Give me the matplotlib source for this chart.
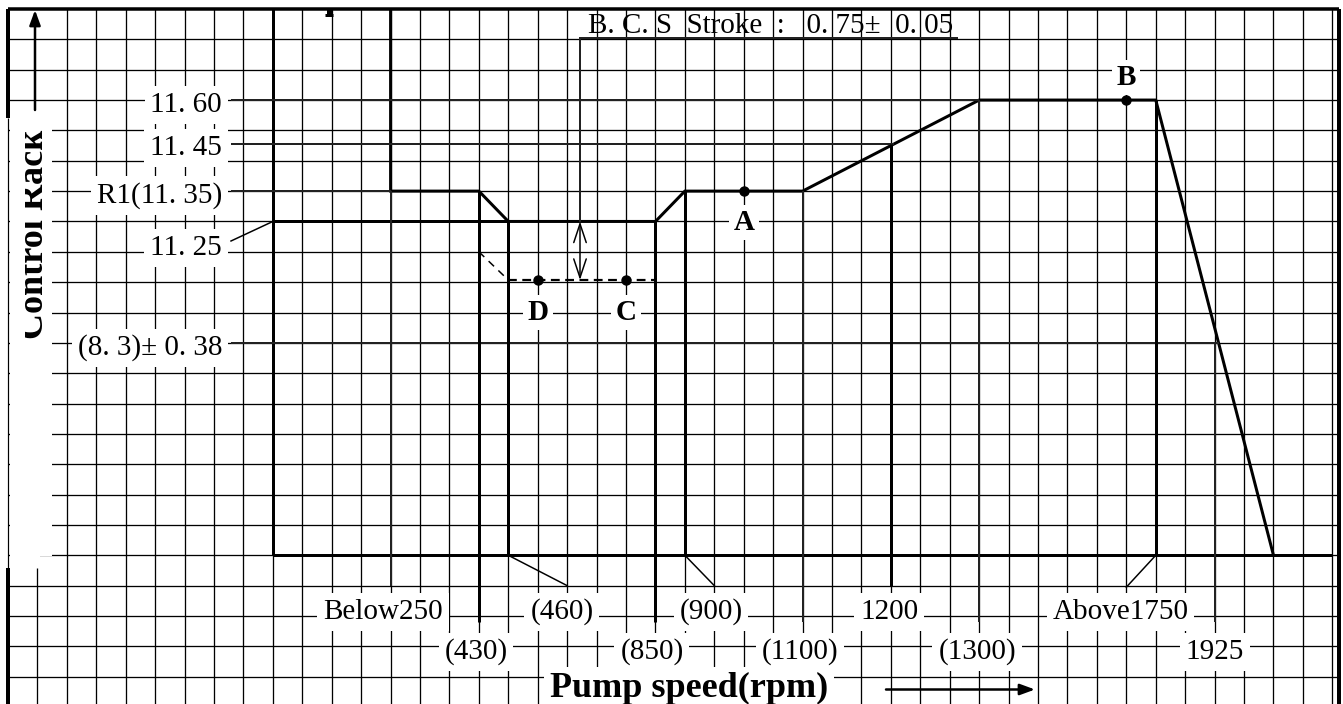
import numpy as np
import matplotlib
matplotlib.use("Agg")
import matplotlib.pyplot as plt
from matplotlib.patches import Rectangle
from matplotlib.transforms import Bbox, TransformedBbox

# ---------------- data (schematic chart on graph paper) ----------------
speed_labels = ['Below250', '(430)', '(460)', '(850)', '(900)', '(1100)',
                '1200', '(1300)', 'Above1750', '1925']
speed_cols = [13, 16, 17, 22, 23, 27, 30, 33, 39, 41]      # grid column of each speed mark

rack_labels = ['11. 60', '11. 45', 'R1(11. 35)', '11. 25', '(8. 3)± 0. 38']
rack_rows = [3, 4.45, 6, 7, 11]                             # grid row of each rack value

curve_cols = [13, 13, 16, 17, 22, 23, 27, 33, 39, 43]      # full-load characteristic
curve_rows = [0, 6, 6, 7, 7, 6, 6, 3, 3, 18]

idle_cols = [16, 17, 22]                                    # low-idle (dashed)
idle_rows = [8, 8.93, 8.93]

point_names = ['A', 'B', 'C', 'D']
point_cols = [25, 38, 21, 18]
point_rows = [6, 3, 8.93, 8.93]

stroke_text = 'B. C. S  Stroke  :   0. 75±  0. 05'
x_title = 'Pump speed(rpm)'
y_title = 'Control Rack'

# ---------------- layout ----------------
W_PX, H_PX, DPI = 1343, 704, 100
X0, DX = 8.0, 29.43      # graph paper origin / cell size (px)
Y0, DY = 9.0, 30.35
PT = 72.0 / DPI          # points per pixel


def cx(px):
    return (px - X0) / DX


def ry(py):
    return (py - Y0) / DY


SERIF = 'Liberation Serif'
FS = 21
FS_B = 21
THICK = 3.0 * PT
MED = 2.0 * PT
THIN = 1.3 * PT

axis_col = 9          # inner y axis
axis_row = 18         # inner x axis
rack_line_start = cx(231)
rack_label_right = cx(222)
rack_label_base = [3.39, 4.81, 6.39, 8.1, 11.4]

speed_label_cols = [12.74, 15.9, 18.82, 21.88, 23.89, 26.9, 29.94, 32.93, 37.8, 41.0]
speed_tier = [0, 1, 0, 1, 0, 1, 0, 1, 0, 1]
tier_base = [20.1, 21.42]
leader_end = {2: (19, 19), 4: (24, 19), 8: (38, 19.05)}
thick_speed = {16, 17, 22, 23, 30, 39}

point_label_base = [7.28, 2.5, 10.25, 10.25]

fig = plt.figure(figsize=(W_PX / DPI, H_PX / DPI), dpi=DPI)
ax = fig.add_axes([0, 0, 1, 1])
ax.set_xlim(cx(0), cx(W_PX))
ax.set_ylim(ry(H_PX), ry(0))
ax.axis('off')

# ---------------- graph paper ----------------
right_edge = cx(1339)
cols = np.arange(0, 46)
rows = np.arange(0, 24)
ax.vlines(cols[(cols != 1) & (cols != 0)], 0, ry(H_PX), color='black', lw=THIN, zorder=1)
ax.vlines(1, ry(568), ry(H_PX), color='black', lw=THIN, zorder=1)
ax.hlines(rows[1:], 0, right_edge, color='black', lw=THIN, zorder=1)

# white band for the y title
ax.add_patch(Rectangle((cx(9.5), ry(117)), cx(52) - cx(9.5), ry(556) - ry(117),
                       facecolor='white', edgecolor='none', zorder=2))
ax.add_patch(Rectangle((cx(9.5), ry(556)), cx(40) - cx(9.5), ry(568) - ry(556),
                       facecolor='white', edgecolor='none', zorder=2))

# borders
ax.hlines(0, 0, right_edge, color='black', lw=3.5 * PT, zorder=6)
ax.vlines(0, 0, ry(118), color='black', lw=4 * PT, zorder=6)
ax.vlines(0, ry(118), ry(568), color='black', lw=1.2 * PT, zorder=6)
ax.vlines(0, ry(568), ry(H_PX), color='black', lw=4 * PT, zorder=6)
ax.vlines(right_edge, 0, ry(H_PX), color='black', lw=4 * PT, zorder=6)

# ---------------- axes of the diagram ----------------
ax.plot([axis_col, axis_col], [0, axis_row], color='black', lw=THICK, zorder=4,
        solid_capstyle='butt')
ax.plot([axis_col, 45], [axis_row, axis_row], color='black', lw=THICK, zorder=4,
        solid_capstyle='butt')

# characteristic
ax.plot(curve_cols, curve_rows, color='black', lw=THICK, zorder=4,
        solid_joinstyle='miter', solid_capstyle='butt')

# low idle dashed
ax.plot(idle_cols[:2], idle_rows[:2], color='black', lw=1.5 * PT, ls=(0, (5, 4)), zorder=4)
ax.plot(idle_cols[1:], idle_rows[1:], color='black', lw=2.2 * PT, ls=(0, (4, 2.5)), zorder=4)


def first_cross(row):
    c, r = curve_cols[1:], curve_rows[1:]
    for i in range(len(c) - 1):
        r1, r2 = r[i], r[i + 1]
        if r1 == row:
            return c[i]
        if (r1 - row) * (r2 - row) < 0:
            return c[i] + (row - r1) / (r2 - r1) * (c[i + 1] - c[i])
    return c[-1]


def curve_row_at(col):
    return float(np.interp(col, curve_cols[1:], curve_rows[1:]))


box = dict(facecolor='white', edgecolor='none', boxstyle='square,pad=0.2')

# rack level lines and labels
for i, (lab, rw) in enumerate(zip(rack_labels, rack_rows)):
    end = first_cross(rw)
    if i == 3:
        ax.plot([rack_line_start, axis_col], [ry(241), rw], color='black', lw=1.5 * PT, zorder=4)
        ax.plot([axis_col, end], [rw, rw], color='black', lw=THICK, zorder=4,
                solid_capstyle='butt')
    else:
        ax.plot([rack_line_start, end], [rw, rw], color='#222222', lw=MED, zorder=4,
                solid_capstyle='butt')
    ax.text(rack_label_right, rack_label_base[i], lab, ha='right', va='baseline',
            family=SERIF, fontsize=FS, zorder=5, bbox=box)

# speed lines and labels
for i, (lab, c) in enumerate(zip(speed_labels, speed_cols)):
    top = curve_row_at(c)
    if lab == '1925':
        top = rack_rows[4]
    if lab == '1200':
        top = rack_rows[1]
    if i in leader_end:
        bottom = axis_row
        lc, lr = leader_end[i]
        ax.plot([c, lc], [axis_row, lr], color='black', lw=1.5 * PT, zorder=4)
    elif speed_tier[i] == 0:
        bottom = 19
    else:
        bottom = 20.2
    w = THICK if c in thick_speed else MED
    ax.plot([c, c], [top, bottom], color='black' if c in thick_speed else '#222222',
            lw=w, zorder=4, solid_capstyle='butt')
    ax.text(speed_label_cols[i], tier_base[speed_tier[i]], lab, ha='center', va='baseline',
            family=SERIF, fontsize=FS, zorder=5, bbox=box)

# points
ax.plot(point_cols, point_rows, 'o', color='black', ms=9 * PT, zorder=5)
for name, c, b in zip(point_names, point_cols, point_label_base):
    ax.text(c, b, name, ha='center', va='baseline', family=SERIF, weight='bold',
            fontsize=FS_B, zorder=5,
            bbox=dict(facecolor='white', edgecolor='none', boxstyle='square,pad=0.15'))

# B.C.S stroke annotation
bcs_col = cx(580)
bcs_row = ry(38)
ax.plot([bcs_col, cx(957)], [bcs_row, bcs_row], color='#222222', lw=MED, zorder=4)
ax.plot([bcs_col, bcs_col], [bcs_row, rack_rows[3]], color='#222222', lw=MED, zorder=4)
ax.text(cx(588), ry(33), stroke_text, ha='left', va='baseline', family=SERIF,
        fontsize=FS, zorder=5)
ax.annotate('', xy=(bcs_col, rack_rows[3]), xytext=(bcs_col, idle_rows[2]),
            arrowprops=dict(arrowstyle='<->,head_length=0.9,head_width=0.3',
                            color='black', lw=1.5 * PT, shrinkA=0, shrinkB=0,
                            mutation_scale=15), zorder=5)

# axis titles and arrows
ax.text(cx(689), ry(697), x_title, ha='center', va='baseline', family=SERIF,
        weight='bold', fontsize=26, zorder=5,
        bbox=dict(facecolor='white', edgecolor='none', boxstyle='square,pad=0.15'))
ax.annotate('', xy=(cx(1035), ry(689.5)), xytext=(cx(886), ry(689.5)),
            arrowprops=dict(arrowstyle='-|>,head_length=0.6,head_width=0.22',
                            color='black', lw=2.5 * PT, shrinkA=0, shrinkB=0,
                            mutation_scale=15), zorder=5)

yt = ax.text(cx(43), ry(234), y_title, rotation=90, rotation_mode='anchor',
             ha='center', va='baseline', family=SERIF, weight='bold', fontsize=26,
             zorder=5, clip_on=True)
yt.set_clip_path(None)
yt.set_clip_box(TransformedBbox(Bbox([[cx(25), ry(556)], [cx(60), ry(117)]]), ax.transData))
yt.set_clip_on(True)
ax.annotate('', xy=(cx(35), ry(10)), xytext=(cx(35), ry(110)),
            arrowprops=dict(arrowstyle='-|>,head_length=0.6,head_width=0.22',
                            color='black', lw=2.5 * PT, shrinkA=0, shrinkB=0,
                            mutation_scale=15), zorder=5)

# fragment of a hidden letter at the top edge (stem and serif foot)
ax.plot([cx(329), cx(329)], [0, ry(16)], color='black', lw=5 * PT, zorder=5,
        solid_capstyle='butt')
ax.plot([cx(325), cx(333)], [ry(15), ry(15)], color='black', lw=3 * PT, zorder=5,
        solid_capstyle='butt')

fig.savefig('out.png', dpi=DPI, facecolor='white')
